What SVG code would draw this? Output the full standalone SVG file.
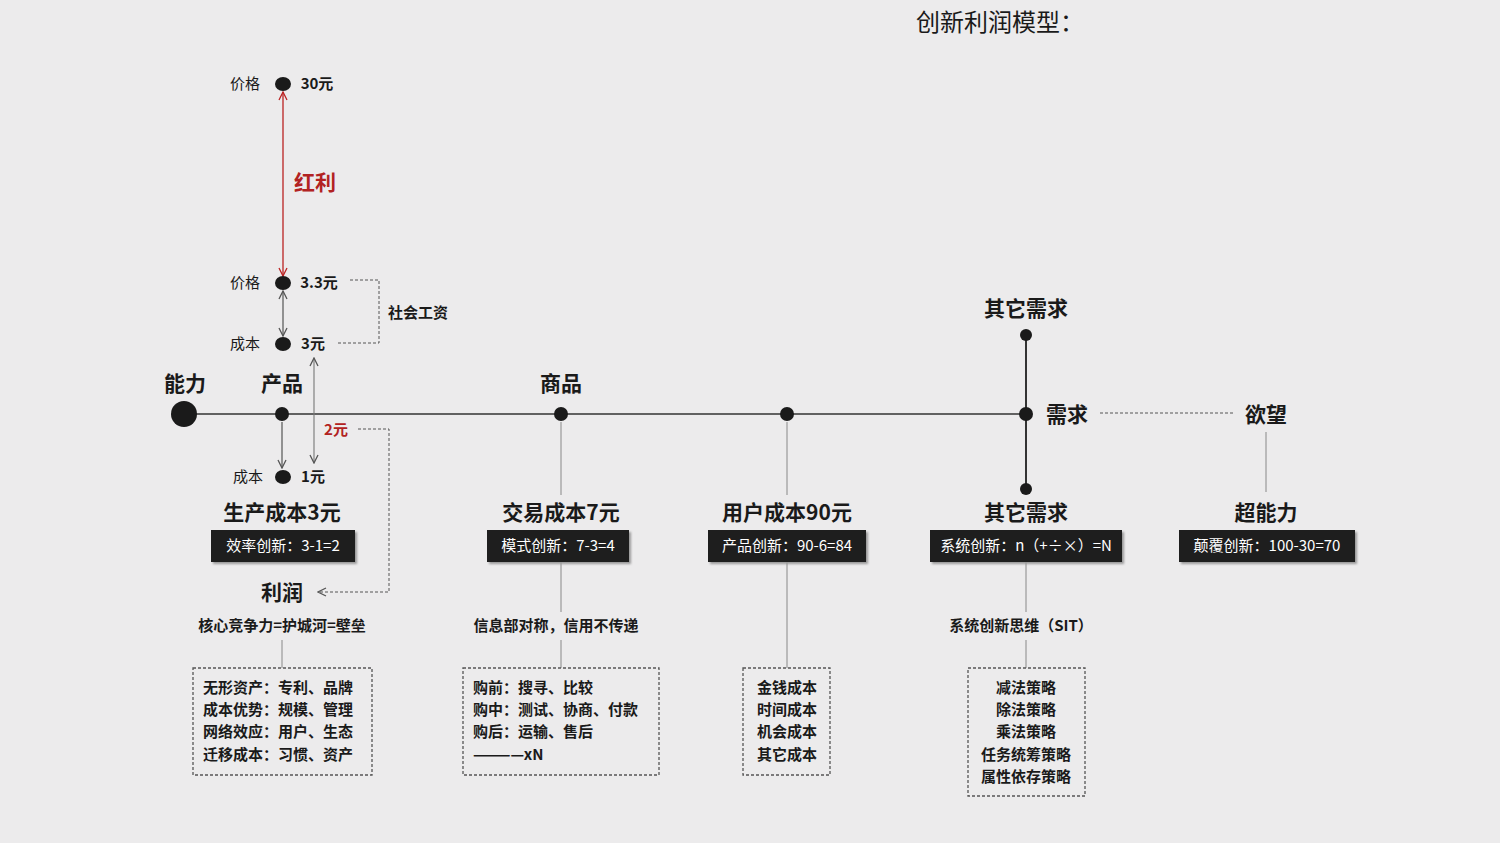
<svg xmlns="http://www.w3.org/2000/svg" width="1500" height="843" viewBox="0 0 1500 843">
<defs>
<marker id="ag" viewBox="0 0 10 10" refX="9" refY="5" markerWidth="10" markerHeight="10" orient="auto-start-reverse" markerUnits="userSpaceOnUse"><path d="M1,1 L9,5 L1,9" fill="none" stroke="#555" stroke-width="1.3"/></marker>
<marker id="ar" viewBox="0 0 10 10" refX="9" refY="5" markerWidth="10" markerHeight="10" orient="auto-start-reverse" markerUnits="userSpaceOnUse"><path d="M1,1 L9,5 L1,9" fill="none" stroke="#b22" stroke-width="1.3"/></marker>
<style>
text{font-family:"Noto Sans CJK SC","Liberation Sans",sans-serif;fill:#1a1a1a;text-anchor:middle;dominant-baseline:central;transform:translateY(-2px)}
.h{font-size:21px;font-weight:bold}
.s{font-size:15px}
.b{font-size:15px;font-weight:bold}
.w{font-size:15px;fill:#fff}
.l{text-anchor:start}
.box{fill:#1e1e1e;filter:drop-shadow(2px 2px 1px #999)}
.dbox{fill:none;stroke:#555;stroke-width:1.3;stroke-dasharray:3 2}
.ln{stroke:#333;stroke-width:1.3;fill:none}
.tl{stroke:#888;stroke-width:1;fill:none}
.dl{stroke:#555;stroke-width:1;fill:none;stroke-dasharray:3 2}
.dot{fill:#1a1a1a}
</style>
</defs>
<rect width="1500" height="843" fill="#ecebec"/>
<text x="1000" y="22" style="font-size:24px">创新利润模型：</text>
<g id="connectors">
<line class="ln" x1="184" y1="414" x2="1026" y2="414"/>
<line class="ln" x1="1026" y1="335" x2="1026" y2="489" style="stroke-width:2"/>
<line class="dl" x1="1100" y1="413" x2="1233" y2="413"/>
<line class="tl" x1="1266" y1="432" x2="1266" y2="492"/>
<line x1="283" y1="92" x2="283" y2="276" stroke="#b22" stroke-width="1.3" marker-start="url(#ar)" marker-end="url(#ar)"/>
<line x1="283" y1="291" x2="283" y2="336" stroke="#555" stroke-width="1.2" marker-start="url(#ag)" marker-end="url(#ag)"/>
<line x1="282" y1="422" x2="282" y2="468" stroke="#555" stroke-width="1.2" marker-end="url(#ag)"/>
<line x1="314" y1="358" x2="314" y2="463" stroke="#777" stroke-width="1.1" marker-start="url(#ag)" marker-end="url(#ag)"/>
<path class="dl" d="M350,280 H379 V343 H337"/>
<path class="dl" d="M358,429 H389 V592 H318" marker-end="url(#ag)"/>
<line class="tl" x1="561" y1="422" x2="561" y2="495"/>
<line class="tl" x1="787" y1="422" x2="787" y2="495"/>
<line class="tl" x1="561" y1="562" x2="561" y2="612"/>
<line class="tl" x1="787" y1="562" x2="787" y2="668"/>
<line class="tl" x1="1026" y1="562" x2="1026" y2="612"/>
<line class="tl" x1="282" y1="640" x2="282" y2="668"/>
<line class="tl" x1="561" y1="640" x2="561" y2="668"/>
<line class="tl" x1="1026" y1="640" x2="1026" y2="668"/>
</g>
<g id="nodes">
<g id="n-nengli"><circle class="dot" cx="184" cy="414" r="13"/><text class="h" x="185" y="384">能力</text></g>
<g id="n-chanpin"><circle class="dot" cx="282" cy="414" r="7"/><text class="h" x="282" y="384">产品</text></g>
<g id="n-shangpin"><circle class="dot" cx="561" cy="414" r="7"/><text class="h" x="561" y="384">商品</text></g>
<g id="n-user"><circle class="dot" cx="787" cy="414" r="7"/></g>
<g id="n-xuqiu"><circle class="dot" cx="1026" cy="414" r="7"/><text class="h" x="1067" y="415">需求</text></g>
<g id="n-other-top"><circle class="dot" cx="1026" cy="335" r="6"/><text class="h" x="1026" y="309">其它需求</text></g>
<g id="n-other-bot"><circle class="dot" cx="1026" cy="489" r="6"/></g>
<g id="n-yuwang"><text class="h" x="1266" y="415">欲望</text></g>
<g id="n-price30"><ellipse class="dot" cx="283" cy="84" rx="8" ry="7"/><text class="s" x="245" y="84">价格</text><text class="b" x="317" y="84">30元</text></g>
<g id="n-hongli"><text class="h" x="315" y="183" style="fill:#b22222">红利</text></g>
<g id="n-price33"><ellipse class="dot" cx="283" cy="283" rx="8" ry="7"/><text class="s" x="245" y="283">价格</text><text class="b" x="319" y="283">3.3元</text></g>
<g id="n-cost3"><ellipse class="dot" cx="283" cy="344" rx="8" ry="7"/><text class="s" x="245" y="344">成本</text><text class="b" x="313" y="344">3元</text></g>
<g id="n-shehui"><text class="b" x="418" y="313">社会工资</text></g>
<g id="n-2yuan"><text class="b" x="336" y="430" style="fill:#b22222">2元</text></g>
<g id="n-cost1"><ellipse class="dot" cx="283" cy="477" rx="8" ry="7"/><text class="s" x="248" y="477">成本</text><text class="b" x="313" y="477">1元</text></g>
<g id="n-c1"><text class="h" x="282" y="513">生产成本3元</text><rect class="box" x="211" y="530" width="144" height="32"/><text class="w" x="283" y="546">效率创新：3-1=2</text></g>
<g id="n-c2"><text class="h" x="561" y="513">交易成本7元</text><rect class="box" x="487" y="530" width="142" height="32"/><text class="w" x="558" y="546">模式创新：7-3=4</text></g>
<g id="n-c3"><text class="h" x="787" y="513">用户成本90元</text><rect class="box" x="708" y="530" width="158" height="32"/><text class="w" x="787" y="546">产品创新：90-6=84</text></g>
<g id="n-c4"><text class="h" x="1026" y="513">其它需求</text><rect class="box" x="930" y="530" width="192" height="32"/><text class="w" x="1026" y="546">系统创新：n（+÷×）=N</text></g>
<g id="n-c5"><text class="h" x="1266" y="513">超能力</text><rect class="box" x="1179" y="530" width="176" height="32"/><text class="w" x="1267" y="546">颠覆创新：100-30=70</text></g>
<g id="n-lirun"><text class="h" x="282" y="593">利润</text><text class="b" x="282" y="626">核心竞争力=护城河=壁垒</text></g>
<g id="n-xinxi"><text class="b" x="556" y="626">信息部对称，信用不传递</text></g>
<g id="n-sit"><text class="b" x="1021" y="626">系统创新思维（SIT）</text></g>
<g id="n-b1"><rect class="dbox" x="193" y="668" width="179" height="107"/>
<text class="b l" x="203" y="688">无形资产：专利、品牌</text><text class="b l" x="203" y="710">成本优势：规模、管理</text><text class="b l" x="203" y="732">网络效应：用户、生态</text><text class="b l" x="203" y="755">迁移成本：习惯、资产</text></g>
<g id="n-b2"><rect class="dbox" x="463" y="668" width="196" height="107"/>
<text class="b l" x="473" y="688">购前：搜寻、比较</text><text class="b l" x="473" y="710">购中：测试、协商、付款</text><text class="b l" x="473" y="732">购后：运输、售后</text><text class="b l" x="473" y="755">————xN</text></g>
<g id="n-b3"><rect class="dbox" x="743" y="668" width="87" height="107"/>
<text class="b" x="787" y="688">金钱成本</text><text class="b" x="787" y="710">时间成本</text><text class="b" x="787" y="732">机会成本</text><text class="b" x="787" y="755">其它成本</text></g>
<g id="n-b4"><rect class="dbox" x="968" y="668" width="117" height="128"/>
<text class="b" x="1026" y="688">减法策略</text><text class="b" x="1026" y="710">除法策略</text><text class="b" x="1026" y="732">乘法策略</text><text class="b" x="1026" y="755">任务统筹策略</text><text class="b" x="1026" y="777">属性依存策略</text></g>
</g>
</svg>
